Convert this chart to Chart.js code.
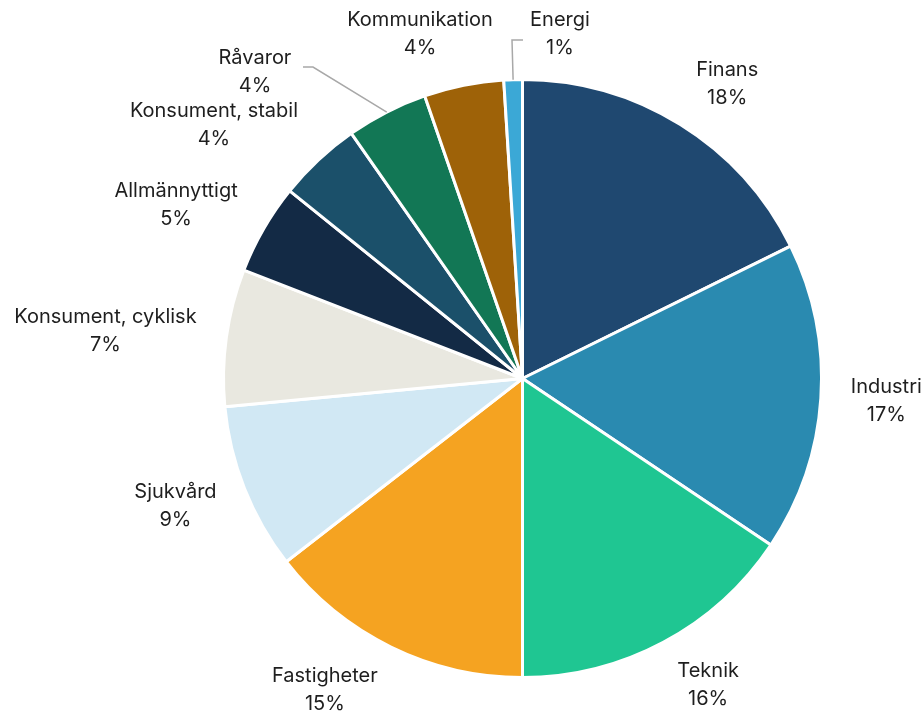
<!DOCTYPE html>
<html>
<head>
<meta charset="utf-8">
<script src="https://cdn.jsdelivr.net/npm/chart.js@4.4.1/dist/chart.umd.min.js"></script>
<style>
  html, body { margin: 0; padding: 0; background: #ffffff; }
  #wrap { width: 924px; height: 715px; }
</style>
</head>
<body>
<div id="wrap"><canvas id="myChart" width="924" height="715"></canvas></div>
<script>
// data
var sektorer = ["Finans", "Industri", "Teknik", "Fastigheter", "Sjukvård", "Konsument, cyklisk",
    "Allmännyttigt", "Konsument, stabil", "Råvaror", "Kommunikation", "Energi"];
var andelar = [17.7, 16.7, 15.6, 14.5, 9.0, 7.4, 4.9, 4.5, 4.4, 4.3, 1.0];
var etiketter = ["18%", "17%", "16%", "15%", "9%", "7%", "5%", "4%", "4%", "4%", "1%"];
var farger = ["#1f4870", "#2a8ab0", "#1fc692", "#f5a321", "#d1e8f4", "#e9e8e0",
    "#132a45", "#1b506a", "#127755", "#9e6208", "#3ba8d6"];

// labels that are moved away from their slice (text centre + leader line)
var flyttade = {
    8: { x: 255, y: 72, linje: [[313, 67], [303, 67]] },
    9: { x: 420, y: 34 },
    10: { x: 560, y: 34, linje: [[512, 40], [523, 40]] }
};

var ctx = document.getElementById("myChart").getContext("2d");

var etikettPlugin = {
    id: "etiketter",
    afterDatasetsDraw: function (chart) {
        var c = chart.ctx;
        var meta = chart.getDatasetMeta(0);
        c.save();
        c.font = "20px Inter";
        c.fillStyle = "#1e1e1e";
        c.textAlign = "center";
        c.textBaseline = "middle";
        var lineH = 28;
        meta.data.forEach(function (arc, i) {
            var mid = (arc.startAngle + arc.endAngle) / 2;
            var dx = Math.cos(mid), dy = Math.sin(mid);
            var rader = [sektorer[i], etiketter[i]];
            var w = Math.max(c.measureText(rader[0]).width, c.measureText(rader[1]).width);
            var cx, cy;
            if (flyttade[i]) {
                cx = flyttade[i].x;
                cy = flyttade[i].y;
                if (flyttade[i].linje) {
                    c.strokeStyle = "#a8a8a8";
                    c.lineWidth = 1.5;
                    c.beginPath();
                    c.moveTo(arc.x + dx * arc.outerRadius, arc.y + dy * arc.outerRadius);
                    flyttade[i].linje.forEach(function (p) { c.lineTo(p[0], p[1]); });
                    c.stroke();
                }
            } else {
                var r = arc.outerRadius + 30;
                var ax = arc.x + dx * r, ay = arc.y + dy * r;
                cx = ax + (dx >= 0 ? 1 : -1) * w / 2;
                cy = ay + dy * 18;
            }
            c.fillText(rader[0], cx, cy - lineH / 2);
            c.fillText(rader[1], cx, cy + lineH / 2);
        });
        c.restore();
    }
};

var myChart = new Chart(ctx, {
    type: "pie",
    data: {
        labels: sektorer,
        datasets: [{
            data: andelar,
            backgroundColor: farger,
            borderColor: "#ffffff",
            borderWidth: 3
        }]
    },
    options: {
        responsive: false,
        animation: false,
        layout: { padding: { left: 222, right: 101, top: 78, bottom: 36 } },
        plugins: {
            legend: { display: false },
            tooltip: { enabled: false }
        }
    },
    plugins: [etikettPlugin]
});
</script>
</body>
</html>
